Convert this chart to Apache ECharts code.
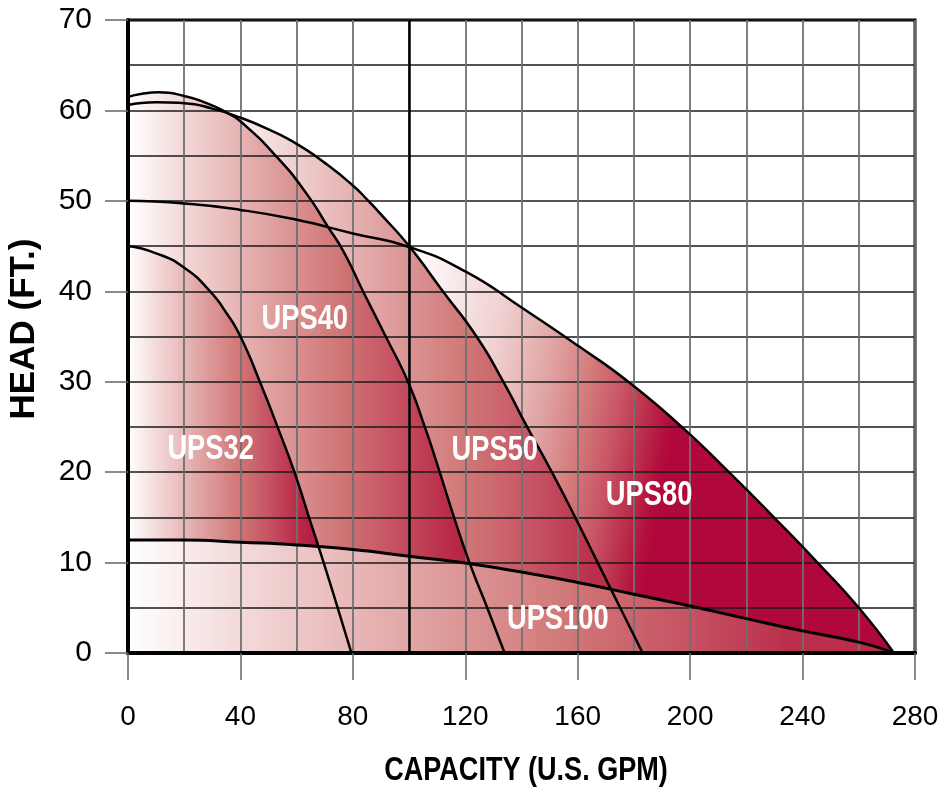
<!DOCTYPE html>
<html>
<head>
<meta charset="utf-8">
<script src="https://cdn.jsdelivr.net/npm/echarts@6/dist/echarts.min.js"></script>
<style>
html,body{margin:0;padding:0;background:#fff;}
#chart{width:952px;height:788px;}
</style>
</head>
<body>
<div id="chart"></div>
<script>
// ---- data (capacity GPM, head ft) ----
const curveNames = ['UPS80', 'UPS50', 'UPS40', 'UPS32', 'UPS100'];

const ups32 = [[0,45],[10,44.2],[20,42.6],[29.2,40],[35,37.6],[40,35],[46.9,30],[53.2,25],[59.2,20],[64.4,15],[69.6,10],[74.6,5],[79.5,0]];
const ups40 = [[0,61.5],[5,61.85],[11,62],[20,61.6],[28,60.8],[35.4,59.7],[40,58.8],[52.8,54.9],[63.5,50.8],[71.2,47.1],[76.5,44.5],[83.6,40],[91.7,35],[99.6,30],[105.6,25],[110.9,20],[116,15],[121.5,10],[127.8,5],[134,0]];
const ups50 = [[0,60.6],[10,60.9],[20,60.8],[30,60.2],[40,59.2],[50,57.9],[60,56.3],[70,54.2],[80,51.7],[85.5,50],[90,48.5],[100,45],[112,40],[124,35],[133.5,30],[142,25],[150.8,20],[159.1,15],[167.1,10],[175.1,5],[183.1,0]];
const ups80 = [[0,50],[20,49.7],[40,49],[60,47.9],[80,46.4],[100,44.9],[120,42.2],[140,38.2],[160,34],[178,30],[197,25],[213.8,20],[229.8,15],[245.3,10],[260,5],[272.5,0]];
const ups100 = [[0,12.5],[20,12.5],[40,12.25],[60,11.95],[80,11.45],[100,10.7],[120,9.95],[140,8.95],[160,7.8],[180,6.5],[200,5.2],[220,3.8],[240,2.45],[260,1.2],[272.5,0]];

const seriesData = {UPS32: ups32, UPS40: ups40, UPS50: ups50, UPS80: ups80, UPS100: ups100};

// ---- styling ----
const REGULAR = "'Liberation Sans', Arial, Helvetica, sans-serif";
const labelAnchor = {UPS32:[29.4,22.5], UPS40:[62.9,36.9], UPS50:[130.5,22.4], UPS80:[185.4,17.4], UPS100:[152.9,3.7]};

const ramp = ['#ffffff','#f4dada','#e8b8b8','#dc9696','#d07676','#c65464','#ba2e4a','#b2103e','#b0083a'];
function rampGradient(t0, t1, x, y, x2, y2) {
  const stops = [];
  ramp.forEach(function (c, i) {
    const o = t0 + i * (t1 - t0) / (ramp.length - 1);
    if (o <= 1) stops.push({offset: Math.max(0, o), color: c});
  });
  return {type: 'linear', x: x, y: y, x2: x2, y2: y2, colorStops: stops};
}
const fills = {
  UPS32: rampGradient(0, 1.0, 0, 0, 1, 0),
  UPS40: rampGradient(0, 1.12, 0, 0, 1, 0),
  UPS50: rampGradient(0.16, 1.16, 0, 0, 1, 0),
  UPS100: rampGradient(0, 1.16, 0, 0, 1, 0),
  UPS80: {type: 'linear', x: 0.367, y: 0.1, x2: 0.746, y2: 0.222, colorStops: [
    {offset: 0, color: '#ffffff'}, {offset: 0.12, color: '#fbf0f0'}, {offset: 0.35, color: '#f0d0d0'},
    {offset: 0.55, color: '#e0a2a2'}, {offset: 0.68, color: '#d47c7c'}, {offset: 0.8, color: '#c85464'},
    {offset: 0.9, color: '#ba2c4a'}, {offset: 0.97, color: '#b20e3d'}, {offset: 1, color: '#b0083a'}]}
};

const SMOOTH = 0.55;
const series = [];
curveNames.forEach(function (n) {
  series.push({
    type: 'line', name: n + ' fill', data: seriesData[n], smooth: SMOOTH,
    symbol: 'none', silent: true, z: 2,
    lineStyle: {width: 0, opacity: 0},
    areaStyle: {color: fills[n], opacity: 1}
  });
});
curveNames.forEach(function (n) {
  const s = {
    type: 'line', name: n, data: seriesData[n], smooth: SMOOTH,
    symbol: 'none', silent: true, z: 5,
    lineStyle: {color: '#000', width: n === 'UPS100' ? 3 : 2.5}
  };
  if (n === 'UPS100') {
    s.markLine = {silent: true, symbol: 'none', label: {show: false},
      lineStyle: {color: '#000', width: 2.5, type: 'solid'}, data: [{xAxis: 100}]};
  }
  series.push(s);
});
series.push({
  type: 'custom', name: 'labels', silent: true, z: 6,
  encode: {x: 0, y: 1},
  data: curveNames.map(function (n) { return labelAnchor[n]; }),
  renderItem: function (params, api) {
    const p = api.coord([api.value(0), api.value(1)]);
    return {
      type: 'text', x: p[0], y: p[1], scaleX: 0.78,
      style: {text: curveNames[params.dataIndex], fill: '#ffffff',
        font: "bold 35px 'Liberation Sans', Arial, sans-serif", align: 'center', verticalAlign: 'middle'}
    };
  }
});

const chart = echarts.init(document.getElementById('chart'), null, {renderer: 'canvas'});
chart.setOption({
  animation: false,
  backgroundColor: '#ffffff',
  grid: {left: 128, right: 37, top: 20, bottom: 135, show: true, borderColor: '#000', borderWidth: 3, backgroundColor: 'transparent'},
  graphic: [{
    type: 'text', x: 526, y: 771, scaleX: 0.82, z: 10,
    style: {text: 'CAPACITY (U.S. GPM)', fill: '#000', font: "bold 33px 'Liberation Sans', Arial, sans-serif",
      align: 'center', verticalAlign: 'middle'}
  }, {
    type: 'text', x: 24, y: 329, rotation: Math.PI / 2, z: 10,
    style: {text: 'HEAD (FT.)', fill: '#000', font: "bold 35px 'Liberation Sans', Arial, sans-serif",
      align: 'center', verticalAlign: 'middle'}
  }],
  xAxis: {
    type: 'value', min: 0, max: 280, interval: 40, z: 3,
    axisLine: {show: true, onZero: false, lineStyle: {color: '#000', width: 4}},
    axisTick: {show: true, inside: false, length: 27, lineStyle: {color: '#666', width: 1.5}},
    minorTick: {show: true, splitNumber: 2, length: 0, lineStyle: {opacity: 0}},
    axisLabel: {margin: 50, fontFamily: REGULAR, fontSize: 28, color: '#000'},
    splitLine: {show: true, lineStyle: {color: '#707070', width: 1.8}},
    minorSplitLine: {show: true, lineStyle: {color: '#707070', width: 1.8}}
  },
  yAxis: {
    type: 'value', min: 0, max: 70, interval: 10, z: 3,
    axisLine: {show: true, onZero: false, lineStyle: {color: '#000', width: 4}},
    axisTick: {show: true, inside: false, length: 23, lineStyle: {color: '#666', width: 1.5}},
    minorTick: {show: true, splitNumber: 2, length: 0, lineStyle: {opacity: 0}},
    axisLabel: {margin: 36, fontFamily: REGULAR, fontSize: 30, color: '#000'},
    splitLine: {show: true, lineStyle: {color: '#1a1a1a', width: 1.5}},
    minorSplitLine: {show: true, lineStyle: {color: '#1a1a1a', width: 1.5}}
  },
  series: series
});
</script>
</body>
</html>
